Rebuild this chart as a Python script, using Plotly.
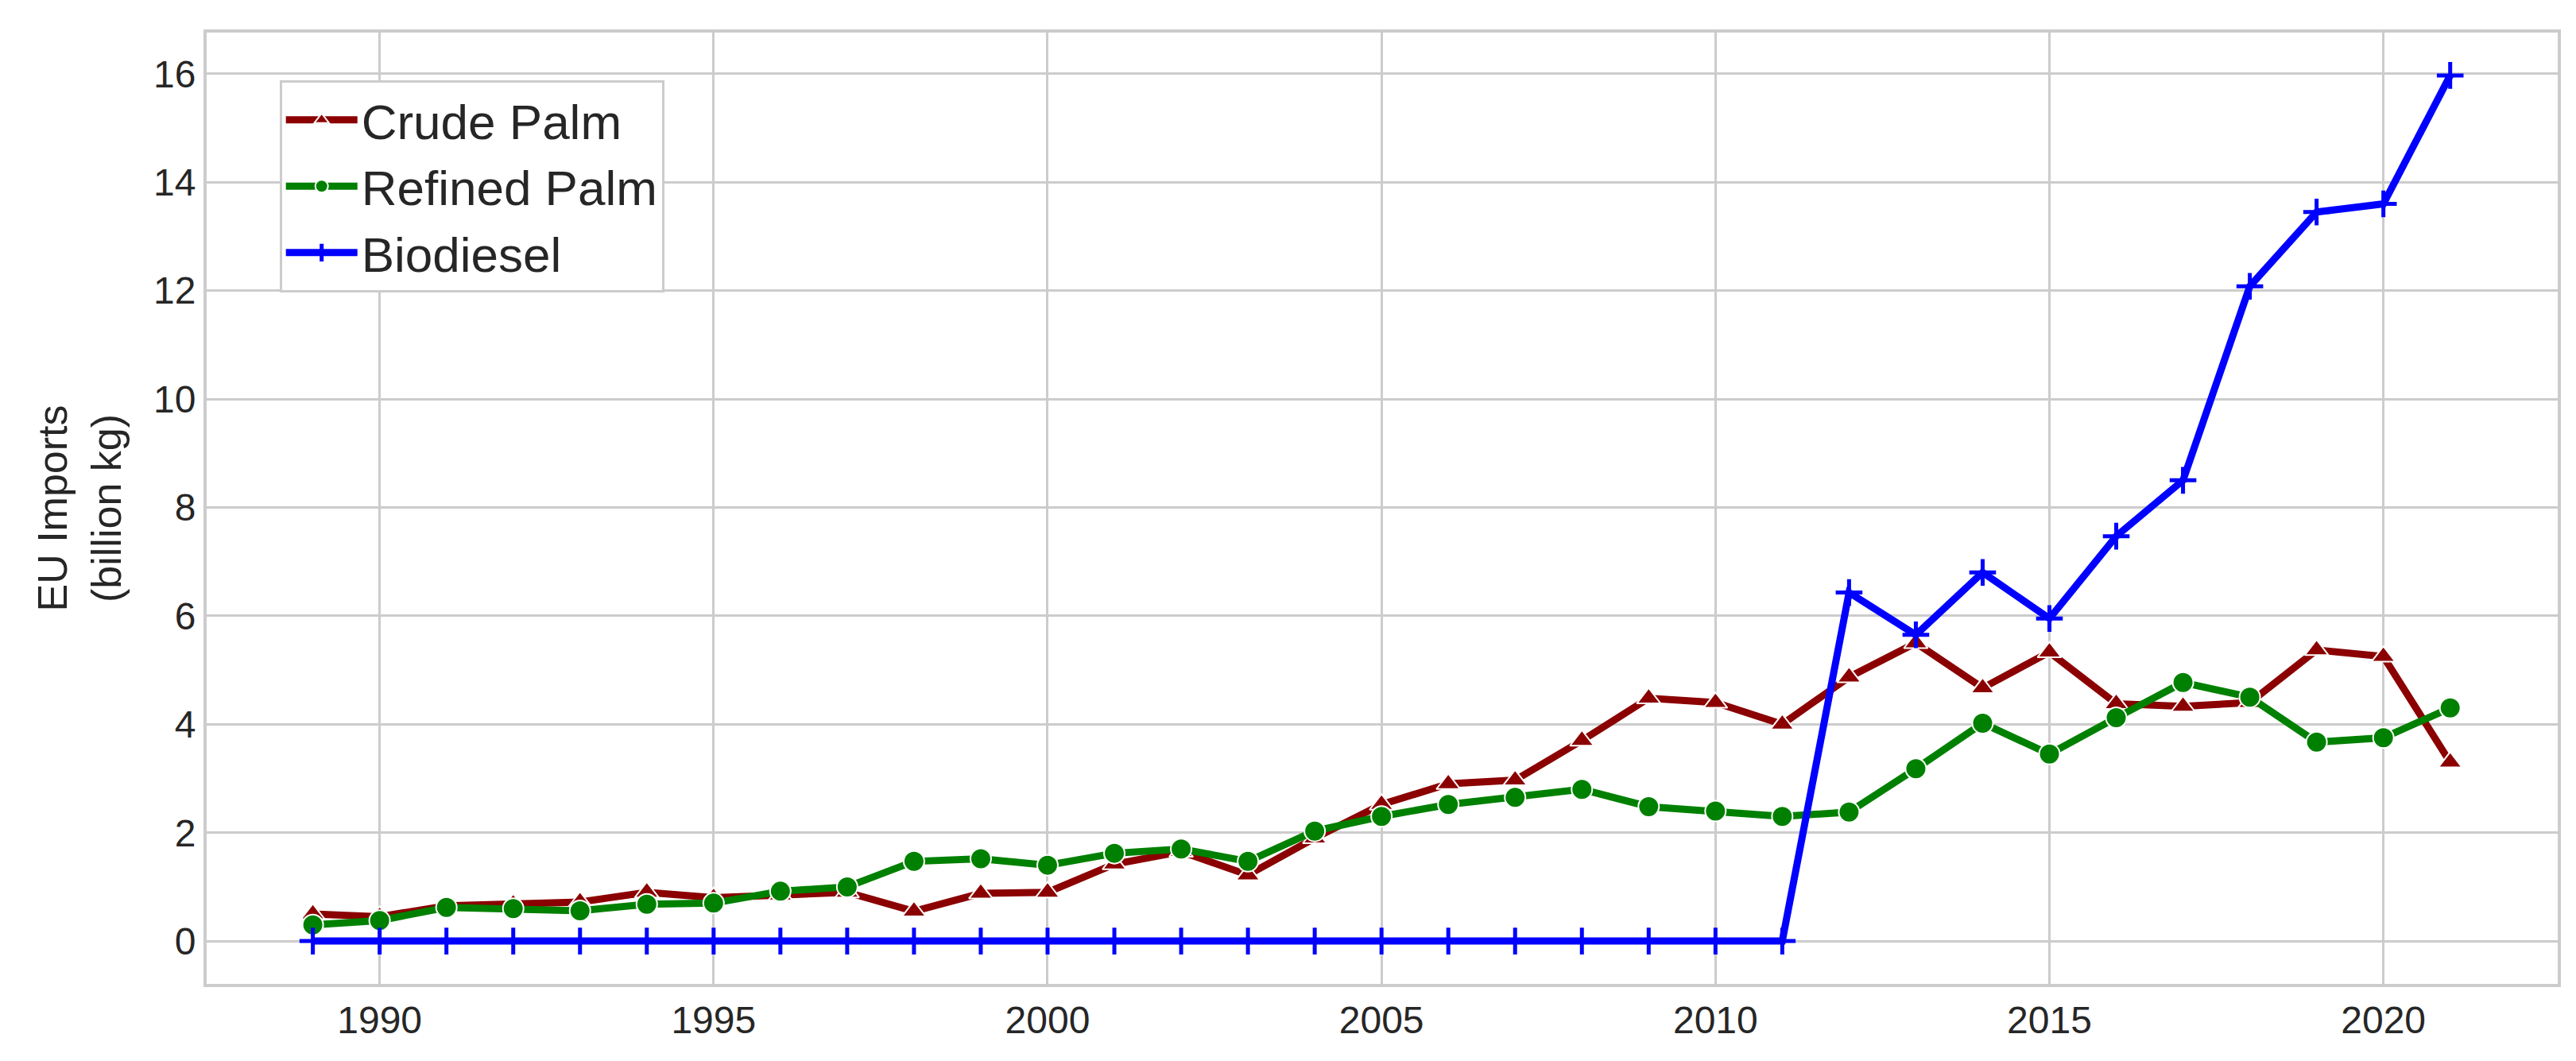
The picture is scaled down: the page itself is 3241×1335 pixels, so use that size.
import plotly.graph_objects as go

years = list(range(1989, 2022))
crude = [0.5,0.45,0.65,0.68,0.72,0.9,0.8,0.85,0.9,0.55,0.88,0.9,1.42,1.65,1.22,1.9,2.52,2.9,2.97,3.7,4.48,4.4,4.0,4.87,5.5,4.67,5.33,4.38,4.33,4.4,5.37,5.25,3.3]
refined = [0.3,0.38,0.62,0.6,0.56,0.68,0.7,0.92,1.0,1.47,1.52,1.4,1.62,1.7,1.47,2.03,2.3,2.52,2.65,2.8,2.48,2.4,2.3,2.38,3.18,4.02,3.45,4.12,4.77,4.5,3.67,3.75,4.3]
biodiesel = [0]*23 + [6.43,5.65,6.8,5.95,7.47,8.5,12.08,13.45,13.6,15.97]

fig = go.Figure()
fig.add_trace(go.Scatter(x=years, y=crude, name="Crude Palm", mode="lines+markers",
    line=dict(color="#8b0000", width=9),
    marker=dict(symbol="triangle-up", size=26, color="#8b0000", line=dict(color="white", width=2))))
fig.add_trace(go.Scatter(x=years, y=refined, name="Refined Palm", mode="lines+markers",
    line=dict(color="#008000", width=9),
    marker=dict(symbol="circle", size=26, color="#008000", line=dict(color="white", width=2))))
fig.add_trace(go.Scatter(x=years, y=biodiesel, name="Biodiesel", mode="lines+markers",
    line=dict(color="#0000ff", width=9),
    marker=dict(symbol="cross-thin", size=24, color="#0000ff", line=dict(color="#0000ff", width=5))))

axis = dict(showgrid=True, gridcolor="#cccccc", gridwidth=3, zeroline=False,
            showline=True, mirror=True, linecolor="#cccccc", linewidth=4,
            tickfont=dict(family="Liberation Sans, Arial", size=48, color="#262626"), ticks="")
fig.update_layout(
    width=3241, height=1335, paper_bgcolor="white", plot_bgcolor="white",
    margin=dict(l=252, r=31, t=33, b=105),
    font=dict(family="Liberation Sans, Arial", color="#262626"),
    xaxis=dict(axis, range=[1987.41, 2022.61], tickvals=[1990,1995,2000,2005,2010,2015,2020]),
    yaxis=dict(axis, range=[-0.79, 16.76], tickvals=list(range(0,17,2)),
               title=dict(text="EU Imports<br>(billion kg)", font=dict(size=52), standoff=25)),
    legend=dict(x=0.031, y=0.95, xanchor="left", yanchor="top", bgcolor="white",
                bordercolor="#cccccc", borderwidth=3, font=dict(size=62, color="#262626"),
                itemwidth=90, tracegroupgap=5),
)
fig.write_html("out.html")
